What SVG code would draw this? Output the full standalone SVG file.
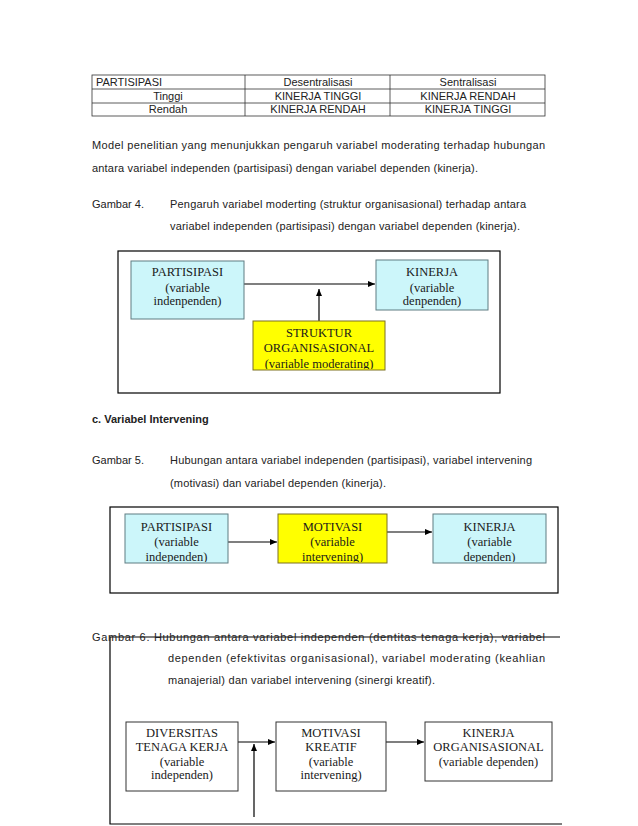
<svg xmlns="http://www.w3.org/2000/svg" width="638" height="826" viewBox="0 0 638 826">
<style>
.t{font-family:"Liberation Sans",Arial,sans-serif;font-size:11px;fill:#222}
.b{font-weight:bold}
.c{text-anchor:middle}
.n{font-family:"Liberation Serif","Times New Roman",serif;font-size:12.5px;fill:#1a1a1a;text-anchor:middle}
.cy{fill:#CCF6FA;stroke:#5f7d82;stroke-width:1}
.ye{fill:#FFFF00;stroke:#7d7020;stroke-width:1}
.wh{fill:#fff;stroke:#333;stroke-width:1}
.frame{fill:none;stroke:#000;stroke-width:1.2}
.ln{fill:none;stroke:#000;stroke-width:1.2}
.grid{fill:none;stroke:#333;stroke-width:0.8}
</style>
<defs>
<marker id="ah" markerWidth="8" markerHeight="8" refX="7" refY="4" orient="auto" markerUnits="userSpaceOnUse">
<path d="M0,1 L7,4 L0,7 Z" fill="#000"/>
</marker>
<clipPath id="c1"><rect x="253" y="321" width="132" height="48"/></clipPath>
<clipPath id="c2"><rect x="125" y="514" width="103" height="48"/></clipPath>
<clipPath id="c3"><rect x="278" y="514" width="109" height="48"/></clipPath>
<clipPath id="c4"><rect x="433" y="514" width="113" height="48"/></clipPath>
</defs>
<rect width="638" height="826" fill="#fff"/>

<g id="table">
<rect class="grid" x="92" y="75" width="453" height="41"/>
<line class="grid" x1="92" y1="89" x2="545" y2="89"/>
<line class="grid" x1="92" y1="103" x2="545" y2="103"/>
<line class="grid" x1="245" y1="75" x2="245" y2="116"/>
<line class="grid" x1="390" y1="75" x2="390" y2="116"/>
<text class="t" x="96" y="86">PARTISIPASI</text>
<text class="t c" x="318" y="86">Desentralisasi</text>
<text class="t c" x="468" y="86">Sentralisasi</text>
<text class="t c" x="168" y="100">Tinggi</text>
<text class="t c" x="318" y="100">KINERJA TINGGI</text>
<text class="t c" x="468" y="100">KINERJA RENDAH</text>
<text class="t c" x="168" y="113">Rendah</text>
<text class="t c" x="318" y="113">KINERJA RENDAH</text>
<text class="t c" x="468" y="113">KINERJA TINGGI</text>
</g>

<g id="text1">
<text class="t" x="92" y="149" textLength="453" lengthAdjust="spacing">Model penelitian yang menunjukkan pengaruh variabel moderating terhadap hubungan</text>
<text class="t" x="92" y="172" textLength="386" lengthAdjust="spacing">antara variabel independen (partisipasi) dengan variabel dependen (kinerja).</text>
<text class="t" x="92" y="208">Gambar  4.</text>
<text class="t" x="170" y="208" textLength="356" lengthAdjust="spacing">Pengaruh variabel moderting (struktur organisasional) terhadap antara</text>
<text class="t" x="170" y="230" textLength="350" lengthAdjust="spacing">variabel independen (partisipasi) dengan variabel dependen (kinerja).</text>
</g>

<rect class="frame" x="118" y="251" width="382" height="142"/>

<g id="connectors1">
<line class="ln" x1="244" y1="284" x2="375" y2="284" marker-end="url(#ah)"/>
<line class="ln" x1="319" y1="321" x2="319" y2="289" marker-end="url(#ah)"/>
</g>

<g id="n-partisipasi1">
<rect class="cy" x="131" y="261" width="113" height="58"/>
<text class="n" x="187.5" y="276">PARTISIPASI</text>
<text class="n" x="187.5" y="292">(variable</text>
<text class="n" x="187.5" y="305">indenpenden)</text>
</g>
<g id="n-kinerja1">
<rect class="cy" x="376" y="260" width="112" height="50"/>
<text class="n" x="432" y="276">KINERJA</text>
<text class="n" x="432" y="292">(variable</text>
<text class="n" x="432" y="305">denpenden)</text>
</g>
<g id="n-struktur">
<rect class="ye" x="253" y="321" width="132" height="49"/>
<g clip-path="url(#c1)">
<text class="n" x="319" y="337">STRUKTUR</text>
<text class="n" x="319" y="352">ORGANISASIONAL</text>
<text class="n" x="319" y="368">(variable moderating)</text>
</g>
</g>

<g id="text2">
<text class="t b" x="92" y="423">c. Variabel Intervening</text>
<text class="t" x="92" y="464">Gambar 5.</text>
<text class="t" x="170" y="464" textLength="362" lengthAdjust="spacing">Hubungan antara variabel independen (partisipasi), variabel intervening</text>
<text class="t" x="170" y="487" textLength="216" lengthAdjust="spacing">(motivasi) dan variabel dependen (kinerja).</text>
</g>

<rect class="frame" x="110" y="507" width="448" height="86"/>

<g id="connectors2">
<line class="ln" x1="228" y1="542" x2="277" y2="542" marker-end="url(#ah)"/>
<line class="ln" x1="387" y1="532" x2="432" y2="532" marker-end="url(#ah)"/>
</g>

<g id="n-partisipasi2">
<rect class="cy" x="125" y="514" width="103" height="49"/>
<g clip-path="url(#c2)">
<text class="n" x="176.5" y="531">PARTISIPASI</text>
<text class="n" x="176.5" y="546">(variable</text>
<text class="n" x="176.5" y="561">independen)</text>
</g>
</g>
<g id="n-motivasi2">
<rect class="ye" x="278" y="514" width="109" height="49"/>
<g clip-path="url(#c3)">
<text class="n" x="332.5" y="531">MOTIVASI</text>
<text class="n" x="332.5" y="546">(variable</text>
<text class="n" x="332.5" y="561">intervening)</text>
</g>
</g>
<g id="n-kinerja2">
<rect class="cy" x="433" y="514" width="113" height="49"/>
<g clip-path="url(#c4)">
<text class="n" x="489.5" y="531">KINERJA</text>
<text class="n" x="489.5" y="546">(variable</text>
<text class="n" x="489.5" y="561">dependen)</text>
</g>
</g>

<path class="frame" d="M560,637 L110,637 L110,824 L562,824"/>

<g id="text3">
<text class="t" x="92" y="641" textLength="453" lengthAdjust="spacing">Gambar 6. Hubungan antara variabel independen (dentitas tenaga kerja), variabel</text>
<text class="t" x="168" y="662" textLength="377" lengthAdjust="spacing">dependen (efektivitas organisasional), variabel moderating (keahlian</text>
<text class="t" x="168" y="684" textLength="267" lengthAdjust="spacing">manajerial) dan variabel intervening (sinergi kreatif).</text>
</g>

<g id="connectors3">
<line class="ln" x1="238" y1="742" x2="275" y2="742" marker-end="url(#ah)"/>
<line class="ln" x1="386" y1="742" x2="424" y2="742" marker-end="url(#ah)"/>
<line class="ln" x1="254" y1="817" x2="254" y2="744" marker-end="url(#ah)"/>
</g>

<g id="n-diversitas">
<rect class="wh" x="126" y="722" width="112" height="69"/>
<text class="n" x="182" y="737">DIVERSITAS</text>
<text class="n" x="182" y="751">TENAGA KERJA</text>
<text class="n" x="182" y="766">(variable</text>
<text class="n" x="182" y="779">independen)</text>
</g>
<g id="n-motivasi3">
<rect class="wh" x="276" y="722" width="110" height="69"/>
<text class="n" x="331" y="737">MOTIVASI</text>
<text class="n" x="331" y="751">KREATIF</text>
<text class="n" x="331" y="766">(variable</text>
<text class="n" x="331" y="779">intervening)</text>
</g>
<g id="n-kinerja3">
<rect class="wh" x="425" y="722" width="127" height="59"/>
<text class="n" x="488.5" y="737">KINERJA</text>
<text class="n" x="488.5" y="751">ORGANISASIONAL</text>
<text class="n" x="488.5" y="766">(variable dependen)</text>
</g>
</svg>
